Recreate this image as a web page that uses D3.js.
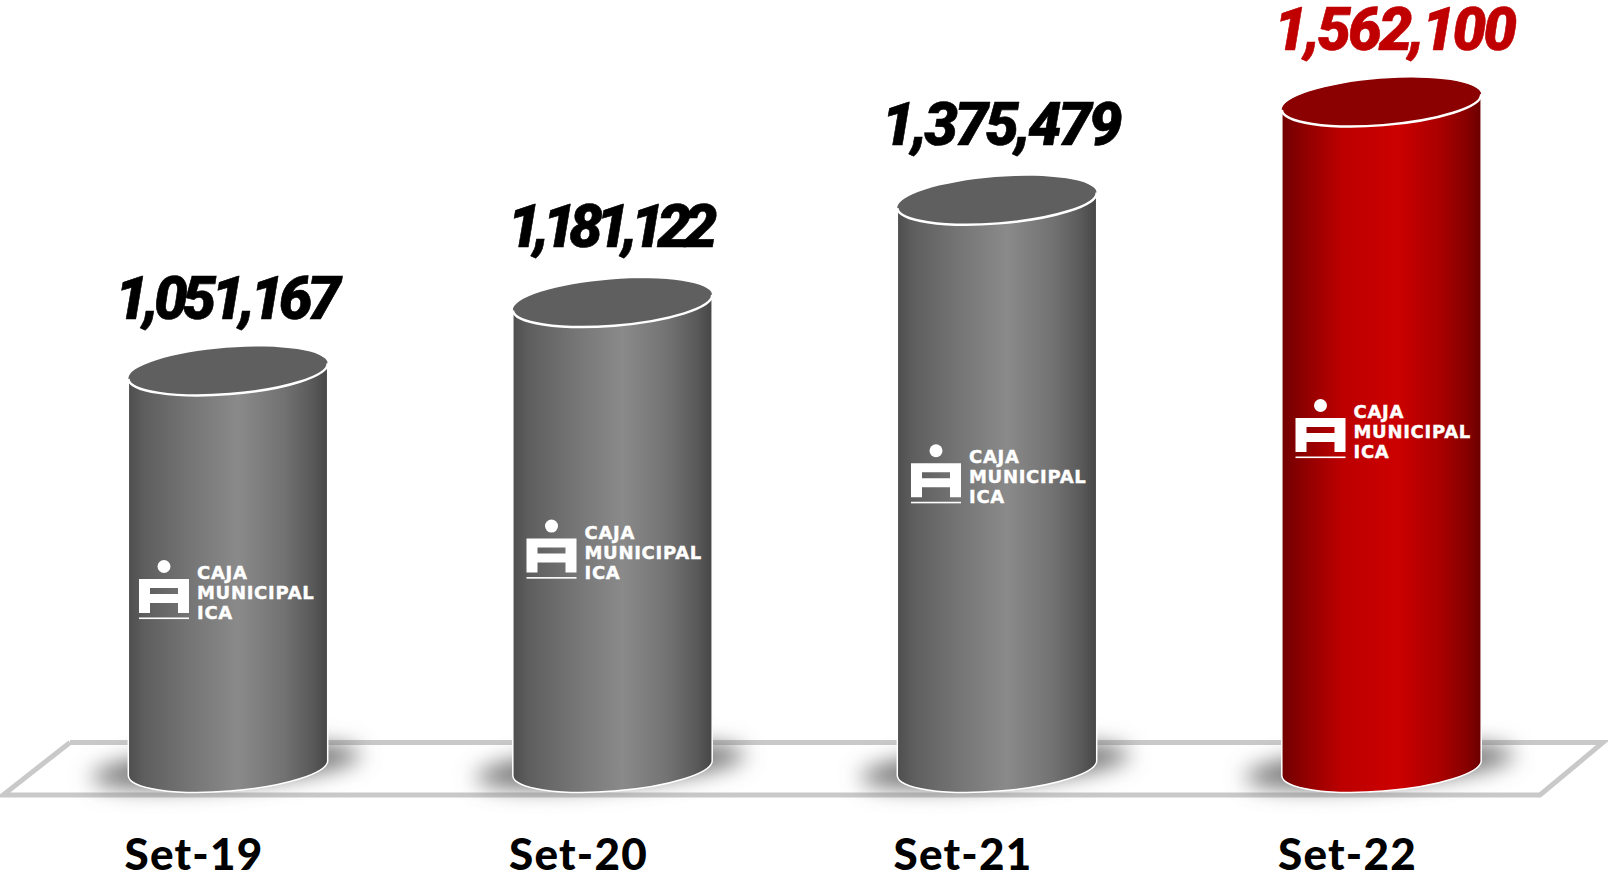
<!DOCTYPE html>
<html>
<head>
<meta charset="utf-8">
<script src="https://cdn.jsdelivr.net/npm/d3@7"></script>
<style>
  html, body { margin: 0; padding: 0; background: #fff; overflow: hidden; }
  svg { display: block; }
  .value { font-family: "Roboto", sans-serif; font-weight: 900; font-style: italic; font-size: 60px; text-anchor: middle; stroke-width: 0.6px; }
  .period { font-family: "Lato", sans-serif; font-weight: 900; font-size: 44px; letter-spacing: 1.2px; text-anchor: middle; fill: #000; }
  .logo-text { font-family: "DejaVu Sans", sans-serif; font-weight: 700; font-size: 18px; letter-spacing: 0.7px; fill: #fff; stroke: #fff; stroke-width: 0.4px; }
</style>
</head>
<body>
<div id="graph"></div>
<script>
// data
const periods = ['Set-19', 'Set-20', 'Set-21', 'Set-22'];
const values = [1051167, 1181122, 1375479, 1562100];
const logoLines = ['CAJA', 'MUNICIPAL', 'ICA'];

const svgWidth = 1608;
const svgHeight = 876;
const baseY = 768;   // centre of the cylinder bottoms
const rx = 100, ry = 23.2, tilt = -4.5;
const dx = rx * Math.cos(tilt * Math.PI / 180);
const dy = rx * Math.sin(tilt * Math.PI / 180);

// things placed by hand per cylinder in the original
const logoDrop = [219, 247, 274, 327];  // logo, distance from the cylinder top
const logoShift = [-89, -86, -86, -86];
const valueShift = [0, 0, 5, 14];
const valueLift = [52, 56, 55, 52];
const valueWidth = [226, 210, 241, 243];  // the original font has narrow 1s

const fmt = d3.format(',');

const x = d3.scalePoint()
  .domain(periods)
  .range([228, 1381.5]);

// truncated axis, same as the original
const y = d3.scaleLinear()
  .domain([297000, 1562100])
  .range([baseY, 102]);

const svg = d3.select('#graph')
  .append('svg')
  .attr('width', svgWidth)
  .attr('height', svgHeight);

const defs = svg.append('defs');

function addGradient(id, stops) {
  const grad = defs.append('linearGradient')
    .attr('id', id)
    .attr('x1', 0).attr('x2', 1).attr('y1', 0).attr('y2', 0);
  stops.forEach(s => grad.append('stop').attr('offset', s[0]).attr('stop-color', s[1]));
}
addGradient('bodyGrey', [[0, '#4e4e4e'], [0.08, '#5e5e5e'], [0.3, '#747474'], [0.55, '#8a8a8a'], [0.78, '#727272'], [0.92, '#5a5a5a'], [1, '#464646']]);
addGradient('bodyRed', [[0, '#700000'], [0.1, '#8c0000'], [0.3, '#bc0000'], [0.58, '#cc0000'], [0.8, '#a80000'], [0.93, '#860000'], [1, '#6a0000']]);

defs.append('filter')
  .attr('id', 'blur')
  .attr('x', '-30%').attr('y', '-100%').attr('width', '160%').attr('height', '300%')
  .append('feGaussianBlur')
  .attr('stdDeviation', 11);

// floor
svg.append('path')
  .attr('d', d3.line()([[70, 742.5], [1603, 742.5], [1540, 795], [3, 795], [70, 742.5]]))
  .attr('fill', 'none')
  .attr('stroke', '#c9c9c9')
  .attr('stroke-width', 5);

const bars = svg.selectAll('.bar')
  .data(periods.map((p, i) => ({
    period: p,
    value: values[i],
    drop: logoDrop[i],
    shift: logoShift[i],
    valueShift: valueShift[i],
    lift: valueLift[i],
    width: valueWidth[i],
    last: i === periods.length - 1
  })))
  .join('g')
  .attr('class', 'bar')
  .attr('transform', d => `translate(${x(d.period)}, 0)`);

// shadow behind the foot
bars.append('ellipse')
  .attr('rx', 135)
  .attr('ry', 19)
  .attr('transform', `translate(-2, 766) rotate(-5)`)
  .attr('fill', '#727272')
  .attr('filter', 'url(#blur)');

// cylinder body
function bodyPath(d) {
  const top = y(d.value);
  return `M${-dx},${top - dy} L${-dx},${baseY - dy}` +
    ` A${rx},${ry} ${tilt} 0 0 ${dx},${baseY + dy}` +
    ` L${dx},${top + dy}` +
    ` A${rx},${ry} ${tilt} 0 0 ${-dx},${top - dy} Z`;
}

bars.append('path')
  .attr('d', bodyPath)
  .attr('fill', d => d.last ? 'url(#bodyRed)' : 'url(#bodyGrey)')
  .attr('stroke', '#fff')
  .attr('stroke-width', 1.5);

// top face
bars.append('ellipse')
  .attr('rx', rx)
  .attr('ry', ry)
  .attr('transform', d => `translate(0, ${y(d.value)}) rotate(${tilt})`)
  .attr('fill', d => d.last ? '#8b0000' : '#5f5f5f');

// white rim on the front of the top face
bars.append('path')
  .attr('d', d => {
    const top = y(d.value);
    return `M${-dx},${top - dy} A${rx},${ry} ${tilt} 0 0 ${dx},${top + dy}`;
  })
  .attr('fill', 'none')
  .attr('stroke', '#fff')
  .attr('stroke-width', 2.5);

// value labels
bars.append('text')
  .attr('class', 'value')
  .attr('x', d => d.valueShift)
  .attr('y', d => y(d.value) - d.lift)
  .attr('textLength', d => d.width)
  .attr('lengthAdjust', 'spacing')
  .attr('fill', d => d.last ? '#c00000' : '#000')
  .attr('stroke', d => d.last ? '#c00000' : '#000')
  .text(d => fmt(d.value));

// period labels
bars.append('text')
  .attr('class', 'period')
  .attr('x', -34)
  .attr('y', 870)
  .text(d => d.period);

// logo
const logo = bars.append('g')
  .attr('transform', d => `translate(${d.shift}, ${y(d.value) + d.drop})`);

logo.append('circle')
  .attr('cx', 25)
  .attr('cy', -23.5)
  .attr('r', 6.5)
  .attr('fill', '#fff');

logo.append('path')
  .attr('d', 'M0,-11H50V23H39V13H11V23H0Z M11,-2V4H39V-2Z')
  .attr('fill', '#fff')
  .attr('fill-rule', 'evenodd');

logo.append('rect')
  .attr('y', 27.5)
  .attr('width', 50)
  .attr('height', 1.6)
  .attr('fill', '#fff');

logoLines.forEach((line, i) => {
  logo.append('text')
    .attr('class', 'logo-text')
    .attr('x', 58)
    .attr('y', -11 + i * 20)
    .text(line);
});
</script>
</body>
</html>
